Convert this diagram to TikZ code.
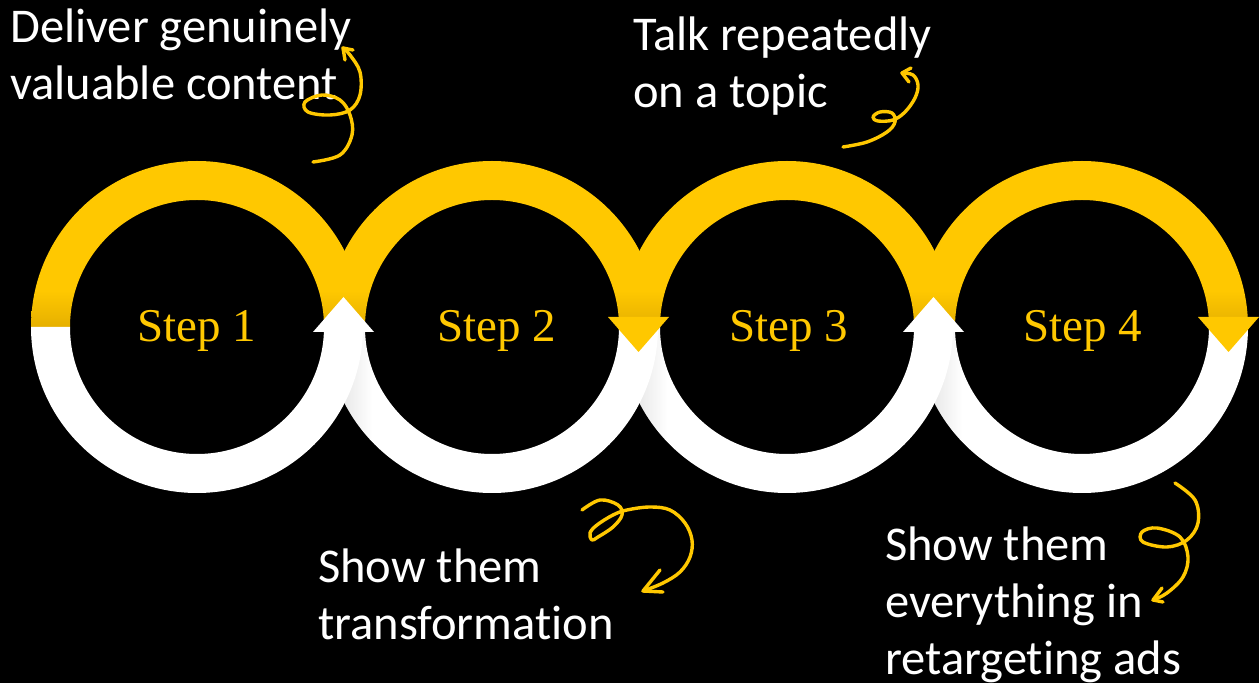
\documentclass[tikz,border=0pt]{standalone}
\usepackage{fontspec}
\setmainfont{Carlito}[Ligatures={NoCommon}]
\newfontfamily\stepfont{Liberation Serif}
\definecolor{ylw}{HTML}{FFC800}
\definecolor{ydark}{HTML}{E6B000}
\colorlet{wdark}{black!14}
\pgfdeclareverticalshading{yshade}{100bp}{color(0bp)=(ydark); color(25bp)=(ydark); color(36bp)=(ylw); color(100bp)=(ylw)}
\pgfdeclarehorizontalshading{wshade}{100bp}{color(0bp)=(wdark); color(25bp)=(wdark); color(32bp)=(white); color(100bp)=(white)}
\tikzset{
  txt/.style={text=white, inner sep=0pt, align=left, font=\fontsize{48.5}{57.5}\selectfont},
  steplabel/.style={text=ylw, inner sep=0pt, font=\stepfont\fontsize{47}{50}\selectfont},
  curl/.style={draw=ylw, line width=3.4pt, line cap=round, line join=round},
}
\begin{document}
\begin{tikzpicture}[x=1pt,y=1pt]
\fill[black] (0,0) rectangle (1259,683);
\useasboundingbox (0,0) rectangle (1259,683);
% rings, drawn right to left so that each left ring lies on top
\foreach \cx/\k in {1082/4, 787/3, 492/2, 197/1}{
  \shade[shading=yshade] (\cx-166,356) arc[start angle=180,end angle=0,radius=166]
     -- (\cx+127,356) arc[start angle=0,end angle=180,radius=127] -- cycle;
  \ifnum\k=1
    \fill[white] (\cx-166,356) arc[start angle=180,end angle=360,radius=166]
       -- (\cx+127,356) arc[start angle=360,end angle=180,radius=127] -- cycle;
  \else
    \shade[shading=wshade] (\cx-166,356) arc[start angle=180,end angle=360,radius=166]
       -- (\cx+127,356) arc[start angle=360,end angle=180,radius=127] -- cycle;
  \fi
  \ifodd\k
    \fill[white] (\cx+116,351) -- (\cx+146.5,386) -- (\cx+177,351) -- cycle;
  \else
    \fill[ylw] (\cx+116,366) -- (\cx+146.5,331) -- (\cx+177,366) -- cycle;
  \fi
}
% step labels
\node[steplabel, anchor=base] (s1) at (197,341) {Step 1};
\node[steplabel, anchor=base] (s2) at (497,341) {Step 2};
\node[steplabel, anchor=base] (s3) at (789,341) {Step 3};
\node[steplabel, anchor=base] (s4) at (1083,341) {Step 4};
% texts (base anchor = baseline of the last line)
\node[txt, anchor=base west] (t1) at (10,583) {Deliver genuinely\\valuable content};
\node[txt, anchor=base west] (t2) at (633,575) {Talk repeatedly\\on a topic};
\node[txt, anchor=base west] (t3) at (318,43) {Show them\\transformation};
\node[txt, anchor=base west] (t4) at (885,8) {Show them\\everything in\\retargeting ads};
% curly arrows
\draw[curl] plot[smooth, tension=0.6] coordinates {(313,521) (340,528) (352,548) (350,568) (340,583) (322,588) (305,581) (308,571) (330,568) (350,573) (360,588) (360,611) (350,628) (343,635)};
\draw[curl] (353,633) -- (343,635) -- (345,623);
\draw[curl] plot[smooth, tension=0.6] coordinates {(843,536) (867,541) (887,551) (895,561) (892,570) (880,571) (873,566) (878,562) (893,563) (905,571) (915,585) (918,598) (913,608) (902,610)};
\draw[curl] (911,615) -- (902,610) -- (909,601);
\draw[curl] plot[smooth, tension=0.6] coordinates {(582,173) (600,183) (618,178) (622,168) (613,156) (598,146) (592,143) (590,150) (597,158) (613,168) (627,173) (650,176) (670,173) (685,160) (692,143) (690,126) (680,111) (663,100) (643,92)};
\draw[curl] (660,113) -- (643,92) -- (663,91);
\draw[curl] plot[smooth, tension=0.6] coordinates {(1175,200) (1195,183) (1198,160) (1187,143) (1167,136) (1143,141) (1142,151) (1157,155) (1180,146) (1188,126) (1183,106) (1167,90) (1153,83)};
\draw[curl] (1162,95) -- (1153,83) -- (1163,81);
\end{tikzpicture}
\end{document}
